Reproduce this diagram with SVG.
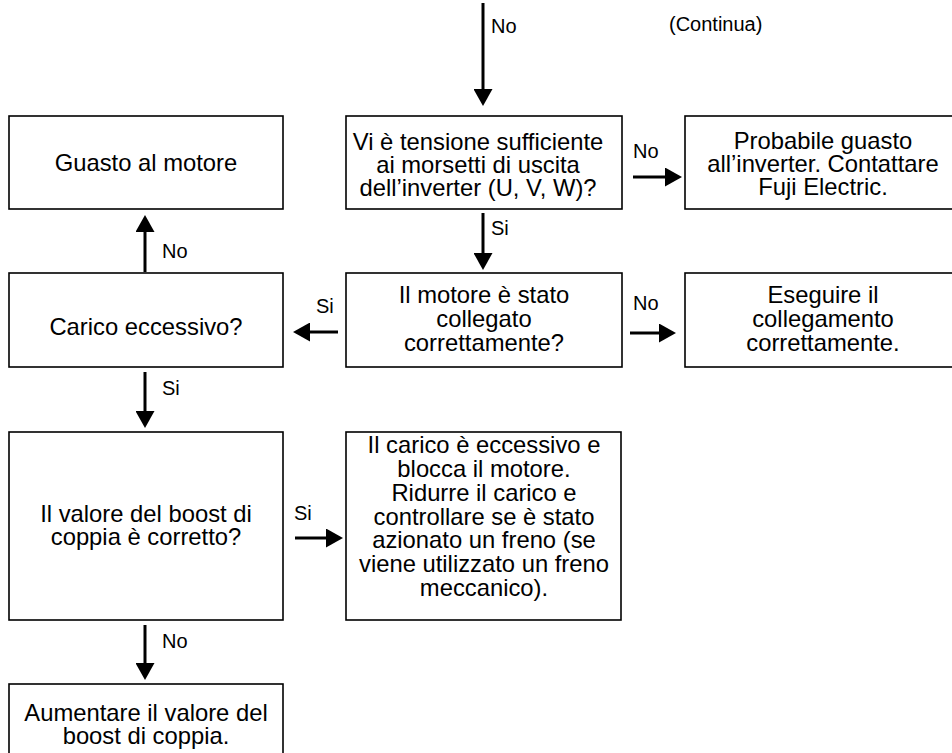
<svg xmlns="http://www.w3.org/2000/svg" width="952" height="753" viewBox="0 0 952 753">
<style>
.box{fill:#fff;stroke:#000;stroke-width:1.6}
.t{font-family:"Liberation Sans",Arial,sans-serif;font-size:23.8px;fill:#000;text-anchor:middle}
.lbl{font-family:"Liberation Sans",Arial,sans-serif;font-size:20px;fill:#000}
.c{stroke:#000;stroke-width:3;fill:none;marker-end:url(#ah)}
</style>
<defs>
<marker id="ah" viewBox="0 0 17 19" refX="0" refY="9.5" markerWidth="17" markerHeight="19" markerUnits="userSpaceOnUse" orient="auto">
<path d="M0,0 L17,9.5 L0,19 z" fill="#000"/>
</marker>
</defs>
<rect width="952" height="753" fill="#fff"/>
<g id="connectors">
<line class="c" x1="483" y1="3" x2="483" y2="89"/>
<line class="c" x1="483" y1="213" x2="483" y2="253"/>
<line class="c" x1="633" y1="177" x2="665" y2="177"/>
<line class="c" x1="630" y1="333" x2="659" y2="333"/>
<line class="c" x1="338" y1="332" x2="310" y2="332"/>
<line class="c" x1="145" y1="272" x2="145" y2="232"/>
<line class="c" x1="145" y1="372" x2="145" y2="411"/>
<line class="c" x1="295" y1="538" x2="326" y2="538"/>
<line class="c" x1="145" y1="625" x2="145" y2="663"/>
<text class="lbl" x="491" y="33">No</text>
<text class="lbl" x="669" y="31">(Continua)</text>
<text class="lbl" x="633" y="158">No</text>
<text class="lbl" x="491" y="235">Si</text>
<text class="lbl" x="162" y="258">No</text>
<text class="lbl" x="316" y="313">Si</text>
<text class="lbl" x="633" y="310">No</text>
<text class="lbl" x="162" y="395">Si</text>
<text class="lbl" x="294" y="520">Si</text>
<text class="lbl" x="162" y="648">No</text>
</g>
<g id="n1">
<rect class="box" x="9" y="116" width="274" height="93"/>
<text class="t" x="146" y="171">Guasto al motore</text>
</g>
<g id="n2">
<rect class="box" x="346" y="116" width="276" height="93"/>
<text class="t" x="478" y="150">Vi è tensione sufficiente</text>
<text class="t" x="478" y="173">ai morsetti di uscita</text>
<text class="t" x="478" y="196">dell’inverter (U, V, W)?</text>
</g>
<g id="n3">
<rect class="box" x="685" y="116" width="276" height="93"/>
<text class="t" x="823" y="149">Probabile guasto</text>
<text class="t" x="823" y="172">all’inverter. Contattare</text>
<text class="t" x="823" y="195">Fuji Electric.</text>
</g>
<g id="n4">
<rect class="box" x="9" y="273" width="274" height="94"/>
<text class="t" x="146" y="335">Carico eccessivo?</text>
</g>
<g id="n5">
<rect class="box" x="346" y="273" width="276" height="94"/>
<text class="t" x="484" y="303">Il motore è stato</text>
<text class="t" x="484" y="327">collegato</text>
<text class="t" x="484" y="351">correttamente?</text>
</g>
<g id="n6">
<rect class="box" x="685" y="273" width="276" height="94"/>
<text class="t" x="823" y="303">Eseguire il</text>
<text class="t" x="823" y="327">collegamento</text>
<text class="t" x="823" y="351">correttamente.</text>
</g>
<g id="n7">
<rect class="box" x="9" y="432" width="274" height="188"/>
<text class="t" x="146" y="522">Il valore del boost di</text>
<text class="t" x="146" y="545">coppia è corretto?</text>
</g>
<g id="n8">
<rect class="box" x="346" y="432" width="275" height="188"/>
<text class="t" x="484" y="453">Il carico è eccessivo e</text>
<text class="t" x="484" y="477">blocca il motore.</text>
<text class="t" x="484" y="501">Ridurre il carico e</text>
<text class="t" x="484" y="525">controllare se è stato</text>
<text class="t" x="484" y="548">azionato un freno (se</text>
<text class="t" x="484" y="572">viene utilizzato un freno</text>
<text class="t" x="484" y="596">meccanico).</text>
</g>
<g id="n9">
<rect class="box" x="9" y="684" width="274" height="100"/>
<text class="t" x="146" y="721">Aumentare il valore del</text>
<text class="t" x="146" y="744">boost di coppia.</text>
</g>
</svg>
